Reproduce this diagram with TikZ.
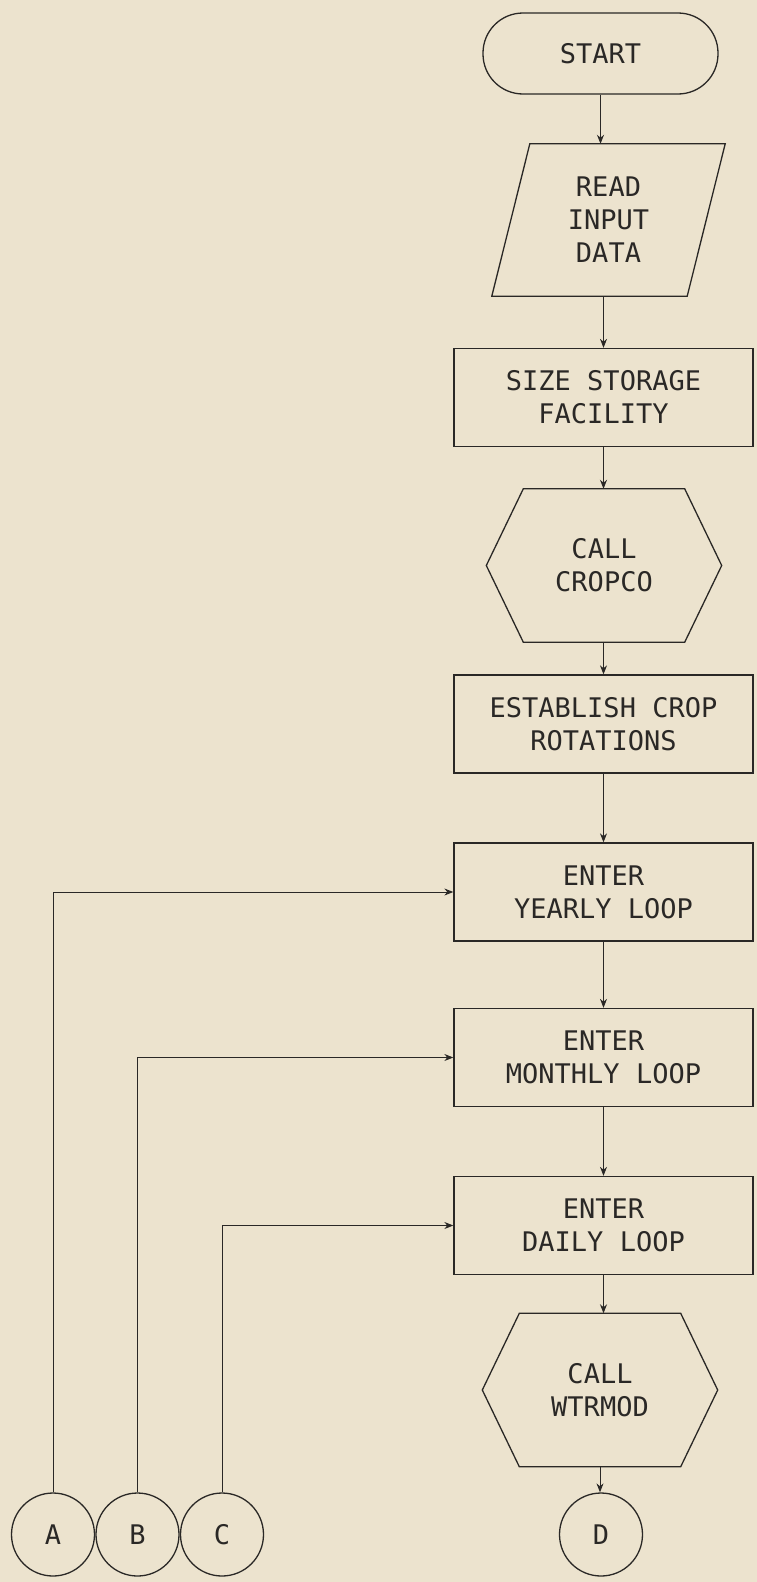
\documentclass[tikz,border=0pt]{standalone}
\usepackage{fontspec}
\setmonofont{DejaVu Sans Mono}
\usepackage{xcolor}
\usetikzlibrary{arrows.meta}
\definecolor{paper}{RGB}{236,227,206}
\definecolor{ink}{RGB}{42,40,38}
\tikzset{
  flowtext/.style={font=\fontsize{27}{33}\selectfont\ttfamily, text=ink, align=center, inner sep=0pt},
  procbox/.style={flowtext, draw=ink, line width=1.3pt, minimum width=299pt, minimum height=98pt},
  termbox/.style={flowtext, draw=ink, line width=1.3pt, minimum width=235pt, minimum height=81pt, rounded corners=40pt},
  callbox/.style={flowtext, minimum width=235pt, minimum height=153pt},
  iobox/.style={flowtext, minimum width=233pt, minimum height=152pt},
  connbox/.style={flowtext, draw=ink, line width=1.3pt, circle, minimum size=83pt},
  flow/.style={draw=ink, line width=1pt, -{Stealth[length=9pt,width=7pt]}}
}
\newcommand{\hexout}[1]{\draw[ink,line width=1.3pt] ([xshift=37pt]#1.north west) -- ([xshift=-37pt]#1.north east) -- (#1.east) -- ([xshift=-37pt]#1.south east) -- ([xshift=37pt]#1.south west) -- (#1.west) -- cycle;}
\newcommand{\parout}[1]{\draw[ink,line width=1.3pt] ([xshift=38pt]#1.north west) -- (#1.north east) -- ([xshift=-38pt]#1.south east) -- (#1.south west) -- cycle;}

\begin{document}
\begin{tikzpicture}[x=1pt,y=-1pt]
\fill[paper] (0,0) rectangle (757,1582);

% ---- main column
\node[termbox] (start) at (600.5,53.5) {START};
\node[iobox] (read) at (608.5,220) {READ\\INPUT\\DATA};
\node[procbox] (size) at (603.5,397.5) {SIZE STORAGE\\FACILITY};
\node[callbox] (cropco) at (604,565.5) {CALL\\CROPCO};
\node[procbox] (crops) at (603.5,724) {ESTABLISH CROP\\ROTATIONS};
\node[procbox] (yearly) at (603.5,892) {ENTER\\YEARLY LOOP};
\node[procbox] (monthly) at (603.5,1057.5) {ENTER\\MONTHLY LOOP};
\node[procbox] (daily) at (603.5,1225.5) {ENTER\\DAILY LOOP};
\node[callbox] (wtrmod) at (600,1390) {CALL\\WTRMOD};
\node[connbox] (D) at (601,1534.5) {D};

\parout{read}
\hexout{cropco}
\hexout{wtrmod}

% ---- loop connectors
\node[connbox] (A) at (53,1534.5) {A};
\node[connbox] (B) at (137.5,1534.5) {B};
\node[connbox] (C) at (222,1534.5) {C};

% ---- arrows
\draw[flow] (start.south) -- (start.south |- read.north);
\draw[flow] (size.north |- read.south) -- (size.north);
\draw[flow] (size.south) -- (size.south |- cropco.north);
\draw[flow] (crops.north |- cropco.south) -- (crops.north);
\draw[flow] (crops.south) -- (yearly.north);
\draw[flow] (yearly.south) -- (monthly.north);
\draw[flow] (monthly.south) -- (daily.north);
\draw[flow] (daily.south) -- (daily.south |- wtrmod.north);
\draw[flow] (wtrmod.south) -- (wtrmod.south |- D.north);

\draw[flow] (A.north) |- (yearly.west);
\draw[flow] (B.north) |- (monthly.west);
\draw[flow] (C.north) |- (daily.west);
\end{tikzpicture}
\end{document}
